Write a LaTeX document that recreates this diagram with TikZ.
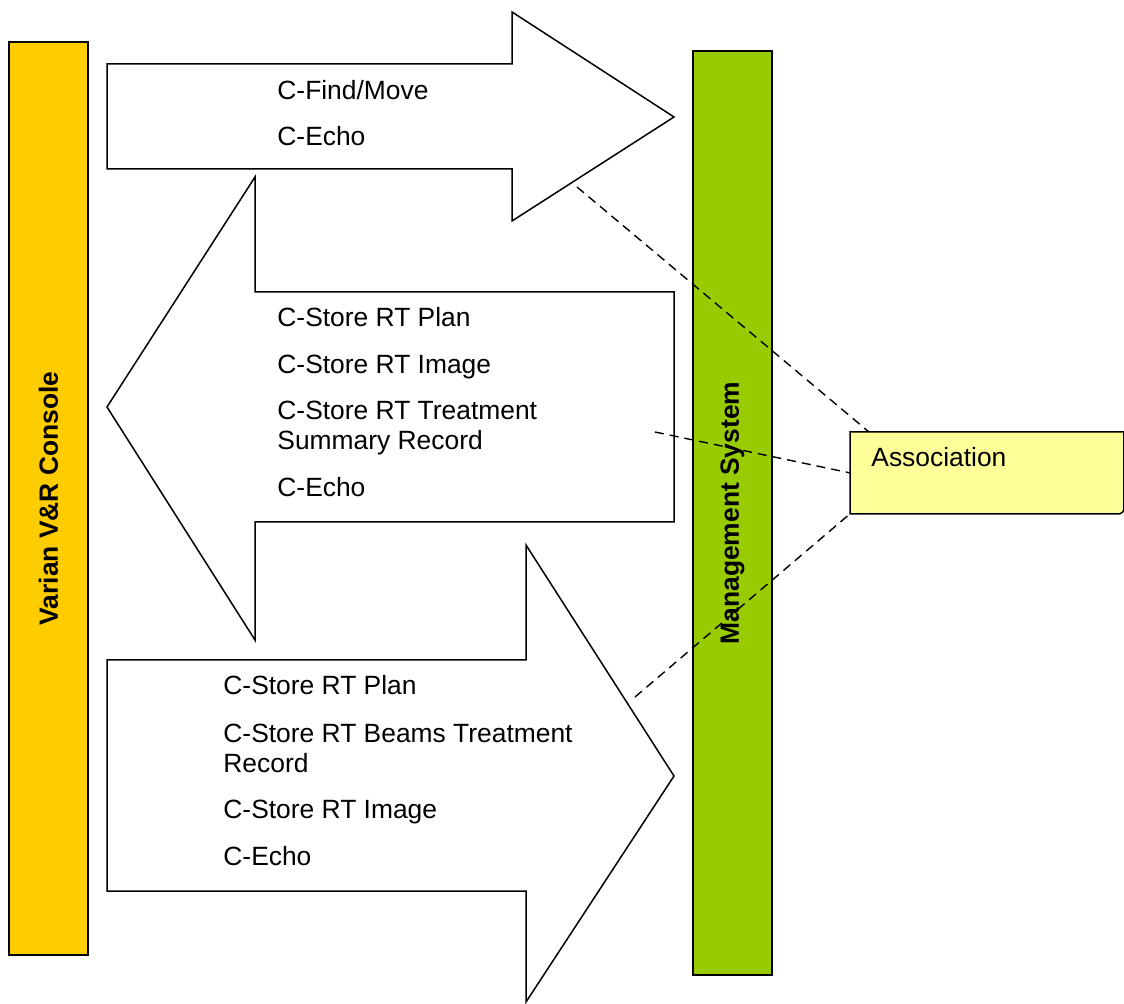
\documentclass[tikz,border=0pt]{standalone}
\usepackage{fontspec}
\setmainfont{Liberation Sans}
\definecolor{consolefill}{HTML}{FFCC00}
\definecolor{mgmtfill}{HTML}{99CC00}
\definecolor{assocfill}{HTML}{FFFF99}
\begin{document}
\begin{tikzpicture}[x=0.5pt,y=-0.5pt,
  font=\fontsize{13.2pt}{15pt}\selectfont,
  bar/.style={draw=black,line width=1pt,rotate=90,inner sep=0pt,font=\fontsize{13.2pt}{15pt}\selectfont\bfseries},
  arrowshape/.style={draw=black,fill=white,line width=0.75pt,line join=miter},
  item/.style={anchor=base west,inner sep=0pt},
  assocline/.style={dash pattern=on 4.5pt off 3pt,line width=0.7pt}]
\useasboundingbox (0,0) rectangle (1124,1004);
% arrows
\draw[arrowshape] (107,64) -- (512,64) -- (512,12) -- (674,117) -- (512,221) -- (512,169) -- (107,169) -- cycle;
\draw[arrowshape] (674,292) -- (255,292) -- (255,177) -- (107,407) -- (255,640) -- (255,522) -- (674,522) -- cycle;
\draw[arrowshape] (107,660) -- (526,660) -- (526,545) -- (674,776) -- (526,1002) -- (526,891) -- (107,891) -- cycle;
% bars
\node[bar,fill=consolefill,minimum width=456.5pt,minimum height=39.5pt] (console) at (48.5,498.5) {Varian V\&R Console};
\node[bar,fill=mgmtfill,minimum width=462pt,minimum height=39.5pt] (mgmt) at (732.5,513) {Management System};
% top arrow text
\node[item] (t1) at (277,100) {C-Find/Move};
\node[item] (t2) at (277,146) {C-Echo};
% middle arrow text
\node[item] (m1) at (277,327) {C-Store RT Plan};
\node[item] (m2) at (277,374) {C-Store RT Image};
\node[item] (m3) at (277,420) {C-Store RT Treatment};
\node[item] (m4) at (277,450) {Summary Record};
\node[item] (m5) at (277,497) {C-Echo};
% bottom arrow text
\node[item] (b1) at (223,695) {C-Store RT Plan};
\node[item] (b2) at (223,742) {C-Store RT Beams Treatment};
\node[item] (b3) at (223,772) {Record};
\node[item] (b4) at (223,818) {C-Store RT Image};
\node[item] (b5) at (223,865) {C-Echo};
% association box
\node[fill=assocfill,minimum width=136.5pt,minimum height=40.5pt,inner sep=0pt,anchor=north west] (assoc) at (850,432) {};
\draw[line width=0.75pt] (assoc.north west) -- (assoc.north east) -- ([yshift=4pt]assoc.south east)
  .. controls ([yshift=1pt]assoc.south east) .. ([xshift=-2pt]assoc.south east) -- (assoc.south west) -- cycle;
\node[item] (assoctext) at (871,467) {Association};
% dashed association lines
\coordinate (a1) at (577,187);
\coordinate (a2) at (655,432);
\coordinate (a3) at (635,697);
\coordinate (c1) at (869,432);
\draw[assocline] (a1) -- (c1);
\draw[assocline] (a2) -- (assoc.west);
\draw[assocline] (a3) -- (assoc.south west);
\end{tikzpicture}
\end{document}
